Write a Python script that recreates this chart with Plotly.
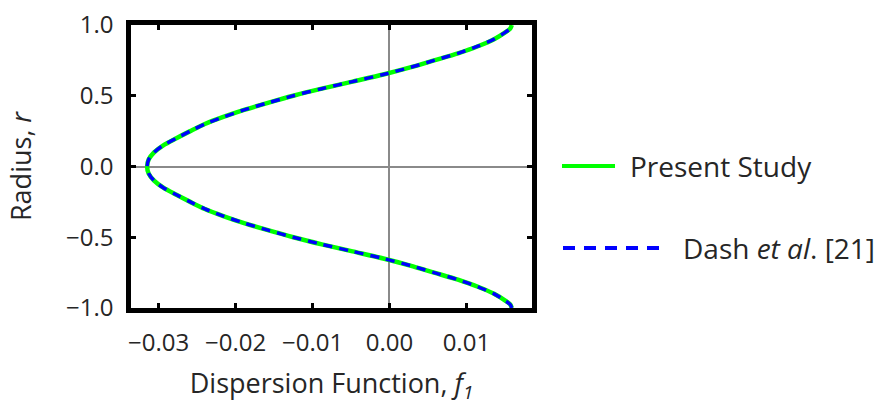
import plotly.graph_objects as go

# ---- data (upper half, r >= 0; profile is symmetric) ----
radius_upper = [0.0, 0.05, 0.10, 0.15, 0.20, 0.25, 0.30, 0.35, 0.40, 0.45, 0.50,
                0.55, 0.60, 0.65, 0.70, 0.75, 0.80, 0.85, 0.90, 0.95, 0.975, 1.0]
f1_present_upper = [-0.0315, -0.0313, -0.0306, -0.0294, -0.0277, -0.0259, -0.0240, -0.0216,
                    -0.0189, -0.0158, -0.0125, -0.0088, -0.0048, -0.0008, 0.0027, 0.0058,
                    0.0089, 0.0115, 0.0136, 0.0151, 0.0157, 0.0159]
f1_dash_upper = [-0.0315, -0.0313, -0.0306, -0.0294, -0.0277, -0.0259, -0.0240, -0.0216,
                 -0.0189, -0.0158, -0.0125, -0.0088, -0.0048, -0.0008, 0.0027, 0.0058,
                 0.0089, 0.0115, 0.0136, 0.0151, 0.0157, 0.0159]

x_tick_vals = [-0.03, -0.02, -0.01, 0.0, 0.01]
x_tick_text = ["\u22120.03", "\u22120.02", "\u22120.01", "0.00", "0.01"]
y_tick_vals = [-1.0, -0.5, 0.0, 0.5, 1.0]
y_tick_text = ["\u22121.0", "\u22120.5", "0.0", "0.5", "1.0"]

series_names = ["Present Study", "Dash <i>et al</i>. [21]"]


def mirror(r, f):
    rr = [-v for v in reversed(r)] + r[1:]
    ff = list(reversed(f)) + f[1:]
    return rr, ff


r_full, f_present = mirror(radius_upper, f1_present_upper)
_, f_dash = mirror(radius_upper, f1_dash_upper)

GREEN = "#00FF00"
BLUE = "#0000FF"
TXT = "#262626"
FONT = "Open Sans"

fig = go.Figure()
fig.add_trace(go.Scatter(x=f_present, y=r_full, mode="lines", name=series_names[0],
                         line=dict(color=GREEN, width=4.5, shape="spline", smoothing=0.8),
                         showlegend=False))
fig.add_trace(go.Scatter(x=f_dash, y=r_full, mode="lines", name=series_names[1],
                         line=dict(color=BLUE, width=3.5, dash="9px,7px", shape="spline", smoothing=0.8),
                         showlegend=False))

L, R, T, B = 131, 350, 25, 97
W, H = 882, 405
pw, ph = W - L - R, H - T - B


def px(xp):
    return (xp - L) / pw


def py(yp):
    return (H - B - yp) / ph


# legend drawn as samples + text
fig.add_shape(type="line", xref="paper", yref="paper", x0=px(562), x1=px(615), y0=py(166), y1=py(166),
              line=dict(color=GREEN, width=4))
fig.add_shape(type="line", xref="paper", yref="paper", x0=px(563), x1=px(661), y0=py(248), y1=py(248),
              line=dict(color=BLUE, width=4, dash="12px,9px"))
fig.add_annotation(xref="paper", yref="paper", x=px(628), y=py(166), xanchor="left", yanchor="middle",
                   text=series_names[0], showarrow=False, font=dict(family=FONT, size=28, color=TXT))
fig.add_annotation(xref="paper", yref="paper", x=px(681), y=py(248), xanchor="left", yanchor="middle",
                   text=series_names[1], showarrow=False, font=dict(family=FONT, size=28, color=TXT))

axis_common = dict(ticks="inside", ticklen=5, tickwidth=2.5, tickcolor="black",
                   showline=True, linewidth=4.5, linecolor="black", mirror="allticks",
                   showgrid=False, zeroline=True, zerolinecolor="#8a8a8a", zerolinewidth=1.5)

fig.update_xaxes(range=[-0.0336, 0.01853], tickmode="array", tickvals=x_tick_vals, ticktext=x_tick_text,
                 tickangle=0, tickfont=dict(family=FONT, size=24, color=TXT), ticklabelstandoff=9,
                 title=dict(text="Dispersion Function, <i>f</i><sub><i>1</i></sub>",
                            font=dict(family=FONT, size=27, color=TXT), standoff=23),
                 **axis_common)
fig.update_yaxes(range=[-1.0, 1.0], tickmode="array", tickvals=y_tick_vals, ticktext=y_tick_text,
                 tickfont=dict(family=FONT, size=24, color=TXT), ticklabelstandoff=8,
                 title=dict(text="Radius, <i>r</i>", font=dict(family=FONT, size=27, color=TXT), standoff=28),
                 **axis_common)

fig.update_layout(width=W, height=H, margin=dict(l=L, r=R, t=T, b=B, autoexpand=False),
                  paper_bgcolor="white", plot_bgcolor="white", showlegend=False)

fig.write_html("out.html")
